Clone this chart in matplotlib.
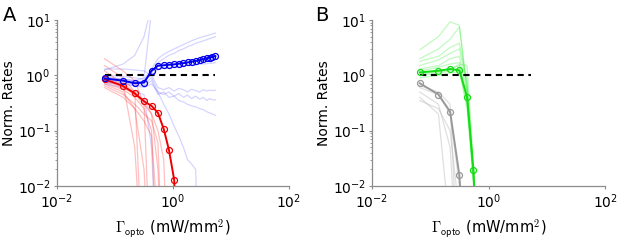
import numpy as np
import matplotlib.pyplot as plt
from matplotlib.ticker import LogLocator, NullLocator

# optogenetic input levels (mW/mm^2), shared by both panels
gamma = [0.066, 0.138, 0.219, 0.316, 0.427, 0.550, 0.692, 0.851, 1.047, 1.259,
         1.514, 1.778, 2.089, 2.455, 2.884, 3.311, 3.802, 4.266, 4.786, 5.370]

# --- panel A: excitatory (blue) and inhibitory (red) ---
blue_mean = [0.88, 0.80, 0.72, 0.74, 1.21, 1.49, 1.52, 1.55, 1.58, 1.62,
             1.66, 1.71, 1.76, 1.82, 1.88, 1.95, 2.02, 2.09, 2.16, 2.22]
red_mean = [0.85, 0.64, 0.47, 0.34, 0.28, 0.21, 0.107, 0.045, 0.013, 1e-4]

blue_traces = [
    [1.25, 1.6, 2.3, 5.0, 18.0],
    [0.95, 0.85, 0.8, 0.9, 15.0],
    [1.0, 0.95, 0.9, 0.85, 1.3, 2.0, 2.4, 2.7, 3.0, 3.3, 3.6, 3.9, 4.2, 4.5, 4.8, 5.0, 5.2, 5.4, 5.6, 5.8],
    [0.9, 0.85, 0.8, 0.75, 1.1, 1.7, 2.0, 2.3, 2.5, 2.8, 3.0, 3.3, 3.5, 3.8, 4.0, 4.2, 4.4, 4.6, 4.8, 5.0],
    [1.3, 1.3, 1.25, 1.2, 1.0, 1.3, 1.35, 1.4, 1.4, 1.45, 1.5, 1.5, 1.55, 1.55, 1.6, 1.6, 1.62, 1.65, 1.65, 1.7],
    [0.85, 0.8, 0.75, 0.8, 1.0, 0.6, 0.55, 0.6, 0.52, 0.58, 0.55, 0.5, 0.56, 0.53, 0.5, 0.55, 0.52, 0.54, 0.53, 0.54],
    [0.8, 0.75, 0.7, 0.7, 0.9, 0.5, 0.45, 0.5, 0.42, 0.47, 0.4, 0.44, 0.38, 0.42, 0.37, 0.4, 0.35, 0.38, 0.36, 0.36],
    [0.75, 0.7, 0.65, 0.65, 0.8, 0.45, 0.5, 0.4, 0.42, 0.35, 0.33, 0.3, 0.28, 0.27, 0.25, 0.24, 0.22, 0.21, 0.2, 0.19],
    [0.75, 0.7, 0.65, 0.6, 0.7, 0.5, 0.3, 0.2, 0.12, 0.08, 0.05, 0.03, 0.025, 0.02, 1e-4],
    [0.7, 0.6, 0.5, 0.45, 0.05, 1e-4],
]
red_traces = [
    [2.0, 1.2, 0.8, 0.3, 1e-4],
    [1.5, 0.9, 0.5, 1e-4],
    [0.7, 0.5, 0.25, 0.02, 1e-4],
    [0.75, 0.55, 0.4, 0.25, 0.1, 1e-4],
    [0.65, 0.45, 0.3, 0.2, 0.15, 0.06, 1e-4],
    [0.8, 0.6, 0.45, 0.3, 0.2, 0.1, 0.03, 1e-4],
    [0.6, 0.4, 0.25, 0.15, 0.08, 0.002, 1e-4],
    [1.2, 0.7, 0.05, 1e-4],
    [0.9, 0.7, 0.5, 0.35, 0.2, 0.02, 1e-4],
]

# --- panel B: green and gray populations ---
green_mean = [1.13, 1.21, 1.30, 1.23, 0.41, 0.0195, 1e-4]
gray_mean = [0.72, 0.45, 0.22, 0.0155, 1e-4]

green_traces = [
    [2.9, 5.0, 9.3, 8.0, 0.5, 0.012, 1e-4],
    [2.0, 3.0, 4.5, 7.5, 0.6, 0.015, 1e-4],
    [1.8, 2.2, 3.2, 3.8, 0.8, 0.02, 1e-4],
    [1.5, 1.9, 2.5, 3.0, 0.7, 0.018, 1e-4],
    [1.3, 1.5, 2.0, 2.2, 0.5, 0.015, 1e-4],
    [1.2, 1.4, 1.6, 1.7, 0.4, 0.012, 1e-4],
    [1.1, 1.2, 1.3, 1.5, 0.35, 0.02, 1e-4],
    [1.0, 1.1, 1.2, 1.3, 0.3, 0.015, 1e-4],
    [0.9, 1.0, 1.1, 1.2, 0.25, 0.012, 1e-4],
    [1.05, 1.15, 1.25, 1.6, 1.5, 0.025, 1e-4],
]
gray_traces = [
    [0.65, 0.5, 0.3, 1e-4],
    [0.5, 0.3, 0.05, 1e-4],
    [0.4, 0.2, 0.0015, 1e-4],
    [0.35, 0.25, 0.1, 0.003, 1e-4],
    [0.6, 0.45, 0.2, 0.01, 1e-4],
]

# reference line at 1 spans the same input range
ref_x = [gamma[0], gamma[-1]]
ref_y = [1.0, 1.0]

plt.rcParams['font.family'] = 'DejaVu Sans'
plt.rcParams['mathtext.fontset'] = 'cm'
plt.rcParams['font.size'] = 10

fig = plt.figure(figsize=(6.17, 2.42), dpi=100)
axA = fig.add_axes([0.0924, 0.2314, 0.376, 0.686])
axB = fig.add_axes([0.603, 0.2314, 0.3776, 0.686])


def draw_panel(ax, traces, mean, light, dark, traces2, mean2, light2, dark2, a1, a2):
    for t in traces:
        ax.plot(gamma[:len(t)], t, color=light, lw=0.9, alpha=a1)
    for t in traces2:
        ax.plot(gamma[:len(t)], t, color=light2, lw=0.9, alpha=a2)
    ax.plot(ref_x, ref_y, color='black', lw=1.5, dashes=(3, 2.2))
    ax.plot(gamma[:len(mean2)], mean2, color=dark2, lw=1.4, marker='o',
            mfc='none', mec=dark2, ms=4.3, mew=0.9)
    ax.plot(gamma[:len(mean)], mean, color=dark, lw=1.4, marker='o',
            mfc='none', mec=dark, ms=4.3, mew=0.9)

    ax.set_xscale('log')
    ax.set_yscale('log')
    ax.set_xlim(1e-2, 1e2)
    ax.set_ylim(1e-2, 1e1)
    ax.set_xticks([1e-2, 1e0, 1e2])
    ax.set_yticks([1e-2, 1e-1, 1e0, 1e1])
    ax.xaxis.set_minor_locator(NullLocator())
    ax.yaxis.set_minor_locator(LogLocator(base=10, subs=np.arange(2, 10)))
    for s in ['top', 'right']:
        ax.spines[s].set_visible(False)
    for s in ['left', 'bottom']:
        ax.spines[s].set_color('#8c8c8c')
        ax.spines[s].set_linewidth(0.9)
    ax.tick_params(which='major', length=2.5, width=0.8, color='#8c8c8c', labelsize=10, pad=2)
    ax.tick_params(which='minor', length=1.5, width=0.6, color='#8c8c8c')
    ax.set_ylabel('Norm. Rates', fontsize=10, labelpad=1)
    ax.set_xlabel(r'$\Gamma_{\mathsf{opto}}$ (mW/mm$^{\mathsf{2}}$)', fontsize=10.5, labelpad=5)


draw_panel(axA, blue_traces, blue_mean, '#4040ff', '#0000ee',
           red_traces, red_mean, '#ff3030', '#ee0000', 0.22, 0.3)
draw_panel(axB, green_traces, green_mean, '#33ee33', '#11dd11',
           gray_traces, gray_mean, '#b0b0b0', '#999999', 0.3, 0.4)

fig.text(0.005, 0.975, 'A', fontsize=14, va='top', ha='left')
fig.text(0.51, 0.975, 'B', fontsize=14, va='top', ha='left')

fig.savefig('out.png', dpi=100)
